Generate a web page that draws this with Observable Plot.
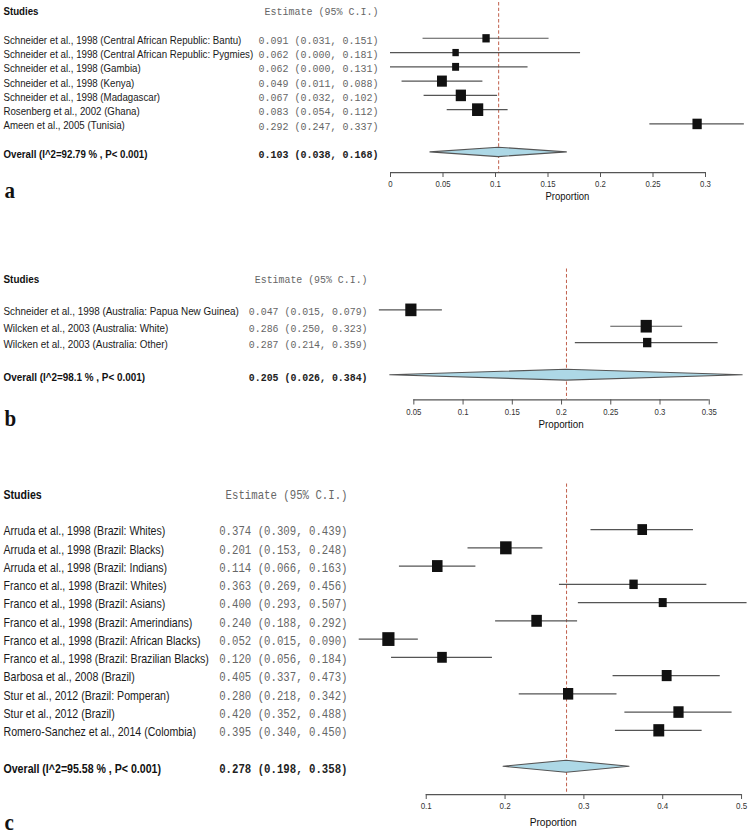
<!DOCTYPE html>
<html>
<head>
<meta charset="utf-8">
<script src="https://cdn.jsdelivr.net/npm/d3@7"></script>
<script src="https://cdn.jsdelivr.net/npm/@observablehq/plot@0.6"></script>
<style>
  html, body { margin: 0; padding: 0; background: #fff; }
  #chart { width: 751px; height: 837px; position: relative; overflow: hidden; }
  #chart svg { display: block; }
</style>
</head>
<body>
<div id="chart"></div>
<script>
// ---------- Panel a ----------
const studiesA = [
  "Schneider et al., 1998 (Central African Republic: Bantu)",
  "Schneider et al., 1998 (Central African Republic: Pygmies)",
  "Schneider et al., 1998 (Gambia)",
  "Schneider et al., 1998 (Kenya)",
  "Schneider et al., 1998 (Madagascar)",
  "Rosenberg et al., 2002 (Ghana)",
  "Ameen et al., 2005 (Tunisia)"
];
const estA  = [0.091, 0.062, 0.062, 0.049, 0.067, 0.083, 0.292];
const lowA  = [0.031, 0.000, 0.000, 0.011, 0.032, 0.054, 0.247];
const highA = [0.151, 0.181, 0.131, 0.088, 0.102, 0.112, 0.337];
const weightA = [9.7, 7.4, 8.7, 17.4, 18.8, 22.5, 15.5];
const overallLabelA = "Overall (I^2=92.79 % , P< 0.001)";
const overallA = [0.103, 0.038, 0.168];
const ticksA = [0, 0.05, 0.1, 0.15, 0.2, 0.25, 0.3];

// ---------- Panel b ----------
const studiesB = [
  "Schneider et al., 1998 (Australia: Papua New Guinea)",
  "Wilcken et al., 2003 (Australia: White)",
  "Wilcken et al., 2003 (Australia: Other)"
];
const estB  = [0.047, 0.286, 0.287];
const lowB  = [0.015, 0.250, 0.214];
const highB = [0.079, 0.323, 0.359];
const weightB = [39.4, 39.4, 21.8];
const overallLabelB = "Overall (I^2=98.1 % , P< 0.001)";
const overallB = [0.205, 0.026, 0.384];
const ticksB = [0.05, 0.1, 0.15, 0.2, 0.25, 0.3, 0.35];

// ---------- Panel c ----------
const studiesC = [
  "Arruda et al., 1998 (Brazil: Whites)",
  "Arruda et al., 1998 (Brazil: Blacks)",
  "Arruda et al., 1998 (Brazil: Indians)",
  "Franco et al., 1998 (Brazil: Whites)",
  "Franco et al., 1998 (Brazil: Asians)",
  "Franco et al., 1998 (Brazil: Amerindians)",
  "Franco et al., 1998 (Brazil: African Blacks)",
  "Franco et al., 1998 (Brazil: Brazilian Blacks)",
  "Barbosa et al., 2008 (Brazil)",
  "Stur et al., 2012 (Brazil: Pomperan)",
  "Stur et al., 2012 (Brazil)",
  "Romero-Sanchez et al., 2014 (Colombia)"
];
const estC  = [0.374, 0.201, 0.114, 0.363, 0.400, 0.240, 0.052, 0.120, 0.405, 0.280, 0.420, 0.395];
const lowC  = [0.309, 0.153, 0.066, 0.269, 0.293, 0.188, 0.015, 0.056, 0.337, 0.218, 0.352, 0.340];
const highC = [0.439, 0.248, 0.163, 0.456, 0.507, 0.292, 0.090, 0.184, 0.473, 0.342, 0.488, 0.450];
const weightC = [7.4, 10.6, 8.9, 5.6, 5.1, 8.9, 11.9, 7.4, 7.8, 8.4, 8.4, 9.5];
const overallLabelC = "Overall (I^2=95.58 % , P< 0.001)";
const overallC = [0.278, 0.198, 0.358];
const ticksC = [0.1, 0.2, 0.3, 0.4, 0.5];

// ---------- drawing ----------
const W = 751;
const S = 1.13; // vertical stretch of the reference image
const fmt = v => v.toFixed(3);
const ci = (e, l, h) => `${fmt(e)} (${fmt(l)}, ${fmt(h)})`;

function forest(p) {
  const n = p.studies.length;
  const rows = p.studies.map((s, i) => ({
    label: s, est: p.est[i], lo: p.low[i], hi: p.high[i], w: p.weight[i], idx: i + 2,
    txt: ci(p.est[i], p.low[i], p.high[i])
  }));
  const oIdx = n + 3;
  const [oEst, oLo, oHi] = p.overall;
  const xmin = d3.min([...p.low, oLo]);
  const xmax = d3.max([...p.high, oHi]);
  const marginLeft = p.x0 + xmin * p.ppu;
  const marginRight = W - (p.x0 + xmax * p.ppu);
  const Hint = p.H / S;
  const marginTop = (p.yHeader - p.top) / S;
  const frameBottom = (p.yAxis - p.top) / S;
  const marginBottom = Hint - frameBottom;
  const axisIdx = (p.yAxis - p.yHeader) / p.step;
  const dyText = 2 / S;
  const sansL = 3 - marginLeft;
  const monoR = p.monoRight - marginLeft;
  const diamond = [
    {x: oLo, y1: oIdx, y2: oIdx},
    {x: oEst, y1: oIdx - 0.33, y2: oIdx + 0.33},
    {x: oHi, y1: oIdx, y2: oIdx}
  ];
  const mono = "Liberation Mono, Courier New, monospace";

  const svg = Plot.plot({
    width: W, height: Hint,
    marginTop, marginBottom, marginLeft, marginRight,
    style: {fontFamily: "Liberation Sans, Arial, sans-serif", fontSize: "10px", color: "#222", background: "#fff", overflow: "visible"},
    x: {domain: [xmin, xmax], axis: null},
    y: {domain: [0, axisIdx], range: [marginTop, frameBottom], axis: null},
    r: {domain: [0, d3.max(p.weight)], range: [0, p.sideMax / Math.sqrt(Math.PI)]},
    marks: [
      // axis line + ticks
      Plot.ruleY([axisIdx], {x1: p.ticks[0], x2: p.ticks[p.ticks.length - 1], stroke: "#555", strokeWidth: 1}),
      Plot.axisX({ticks: p.ticks, tickFormat: d => String(d), tickSize: 4.5, tickPadding: 3,
        fontSize: p.tickFont, color: "#444", stroke: "#555", fill: "#333", label: null}),
      Plot.text(["Proportion"], {text: d => d, frameAnchor: "bottom", dy: p.propDy / S, fontSize: p.propFont, fill: "#111"}),
      // reference (overall) line
      Plot.ruleX([oEst], {x: d => d, y1: -0.5, y2: axisIdx, stroke: "#c0604c", strokeWidth: 1, strokeDasharray: "3,2"}),
      // CI lines
      Plot.ruleY(rows, {y: "idx", x1: "lo", x2: "hi", stroke: "#555", strokeWidth: 1}),
      // squares
      Plot.dot(rows, {x: "est", y: "idx", r: "w", symbol: "square", fill: "#111", stroke: null}),
      // diamond
      Plot.areaY(diamond, {x: "x", y1: "y1", y2: "y2", fill: "#add8e6", stroke: "#555", strokeWidth: 1}),
      // header
      Plot.text(["Studies"], {text: d => d, y: () => 0, frameAnchor: "left", dx: sansL, dy: dyText, textAnchor: "start",
        fontWeight: "bold", fontSize: p.sans, fill: "#111"}),
      Plot.text(["Estimate (95% C.I.)"], {text: d => d, y: () => 0, frameAnchor: "left", dx: monoR, dy: dyText, textAnchor: "end",
        fontFamily: mono, fontSize: p.mono, fill: "#666"}),
      // study rows
      Plot.text(rows, {text: "label", y: "idx", frameAnchor: "left", dx: sansL, dy: dyText, textAnchor: "start",
        fontSize: p.sans, fill: "#1a1a1a"}),
      Plot.text(rows, {text: "txt", y: "idx", frameAnchor: "left", dx: monoR, dy: dyText, textAnchor: "end",
        fontFamily: mono, fontSize: p.mono, fill: "#666"}),
      // overall row
      Plot.text([p.overallLabel], {text: d => d, y: () => oIdx, frameAnchor: "left", dx: sansL, dy: dyText, textAnchor: "start",
        fontWeight: "bold", fontSize: p.sans, fill: "#111"}),
      Plot.text([ci(oEst, oLo, oHi)], {text: d => d, y: () => oIdx, frameAnchor: "left", dx: monoR, dy: dyText, textAnchor: "end",
        fontFamily: mono, fontWeight: "bold", fontSize: p.mono, fill: "#222"}),
      // panel letter
      Plot.text([p.letter], {text: d => d, frameAnchor: "bottom-left", dx: 4 - marginLeft, dy: p.letterDy / S, textAnchor: "start",
        fontFamily: "Liberation Serif, Times New Roman, serif", fontWeight: "bold", fontSize: p.letterFont, fill: "#111"})
    ]
  });
  svg.setAttribute("height", p.H);
  svg.setAttribute("preserveAspectRatio", "none");
  svg.style.width = W + "px";
  svg.style.height = p.H + "px";
  svg.style.maxWidth = "none";
  return svg;
}

const chart = document.getElementById("chart");
chart.append(forest({
  studies: studiesA, est: estA, low: lowA, high: highA, weight: weightA,
  overallLabel: overallLabelA, overall: overallA, ticks: ticksA,
  top: 0, H: 212, yHeader: 9.2, step: 14.27, yAxis: 172,
  x0: 390, ppu: 1050, monoRight: 378, sans: 9.7, mono: 10, tickFont: 7.8, propFont: 9.5, propDy: 27,
  letter: "a", letterDy: 25, letterFont: 21, sideMax: 11.2
}));
chart.append(forest({
  studies: studiesB, est: estB, low: lowB, high: highB, weight: weightB,
  overallLabel: overallLabelB, overall: overallB, ticks: ticksB,
  top: 212, H: 226, yHeader: 276.6, step: 16.35, yAxis: 399.3,
  x0: 364.1, ppu: 984.7, monoRight: 367, sans: 9.9, mono: 9.9, tickFont: 7.8, propFont: 9.8, propDy: 28.5,
  letter: "b", letterDy: 26, letterFont: 21, sideMax: 11.2
}));
chart.append(forest({
  studies: studiesC, est: estC, low: lowC, high: highC, weight: weightC,
  overallLabel: overallLabelC, overall: overallC, ticks: ticksC,
  top: 438, H: 399, yHeader: 492.5, step: 18.25, yAxis: 794,
  x0: 346.9, ppu: 788.3, monoRight: 347, sans: 10.6, mono: 10.7, tickFont: 8, propFont: 10.2, propDy: 31,
  letter: "c", letterDy: 35, letterFont: 21, sideMax: 12.2
}));
</script>
</body>
</html>
